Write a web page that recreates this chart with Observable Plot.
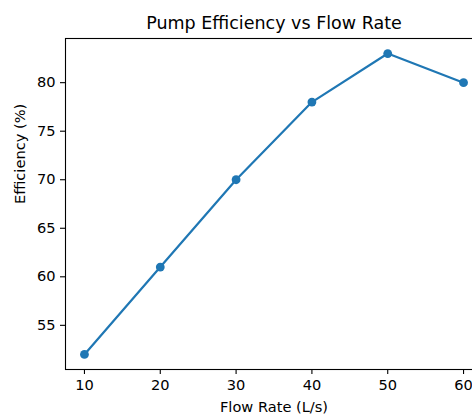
<!DOCTYPE html>
<html>
<head>
<meta charset="utf-8">
<script src="https://cdn.jsdelivr.net/npm/d3@7"></script>
<script src="https://cdn.jsdelivr.net/npm/@observablehq/plot@0.6"></script>
<style>
  html, body { margin: 0; padding: 0; background: #fff; overflow: hidden; width: 472px; height: 417px; }
  #chart { width: 472px; height: 417px; overflow: hidden; }
  #chart svg { max-width: none !important; }
</style>
</head>
<body>
<div id="chart"></div>
<script>
const flowRate = [10, 20, 30, 40, 50, 60];
const efficiency = [52, 61, 70, 78, 83, 80];
const xTicks = [10, 20, 30, 40, 50, 60];
const yTicks = [55, 60, 65, 70, 75, 80];
const titleText = "Pump Efficiency vs Flow Rate";
const xLabel = "Flow Rate (L/s)";
const yLabel = "Efficiency (%)";

const data = flowRate.map((x, i) => ({x, y: efficiency[i]}));
const color = "#1f77b4";
const font = "DejaVu Sans, sans-serif";
const fs = 14.6;

const chart = Plot.plot({
  width: 492,
  height: 417,
  marginLeft: 65,
  marginRight: 10,
  marginTop: 38,
  marginBottom: 48,
  style: {fontFamily: font, fontSize: fs + "px", color: "#000", background: "#fff", overflow: "visible", maxWidth: "none"},
  x: {domain: [7.5, 62.5]},
  y: {domain: [50.45, 84.55]},
  marks: [
    Plot.axisX({ticks: xTicks, tickSize: 5, tickPadding: 5, fontSize: fs, label: null, strokeWidth: 1.1, tickFormat: d => String(d)}),
    Plot.axisY({ticks: yTicks, tickSize: 5, tickPadding: 5, fontSize: fs, label: null, strokeWidth: 1.1, tickFormat: d => String(d)}),
    Plot.frame({stroke: "#000", strokeWidth: 1.1}),
    Plot.line(data, {x: "x", y: "y", stroke: color, strokeWidth: 2.2}),
    Plot.dot(data, {x: "x", y: "y", fill: color, r: 4.4, stroke: null}),
    Plot.text([titleText], {frameAnchor: "top", dy: -15, fontSize: 17.5, lineAnchor: "middle", fill: "#000"}),
    Plot.text([xLabel], {frameAnchor: "bottom", dy: 38, fontSize: fs, lineAnchor: "middle", fill: "#000"}),
    Plot.text([yLabel], {frameAnchor: "left", dx: -45, rotate: -90, fontSize: fs, lineAnchor: "middle", fill: "#000"})
  ]
});
document.getElementById("chart").appendChild(chart);
</script>
</body>
</html>
